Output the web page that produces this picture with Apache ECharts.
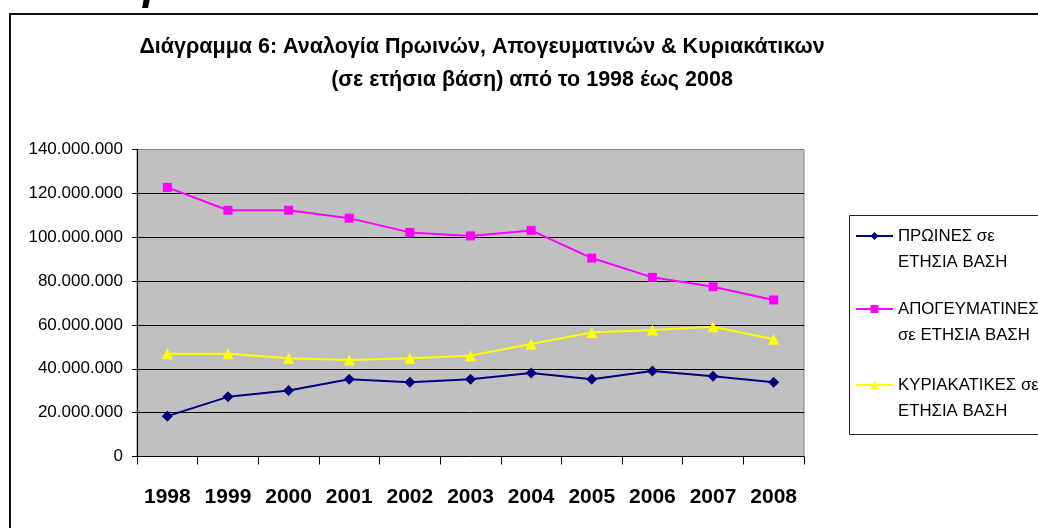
<!DOCTYPE html>
<html>
<head>
<meta charset="utf-8">
<script src="https://cdn.jsdelivr.net/npm/echarts@6/dist/echarts.min.js"></script>
<style>
html,body{margin:0;padding:0;background:#fff;}
#chart{width:1038px;height:528px;}
</style>
</head>
<body>
<div id="chart"></div>
<script>
const years = ['1998','1999','2000','2001','2002','2003','2004','2005','2006','2007','2008'];
const morning = [18400000, 27200000, 30100000, 35200000, 33900000, 35200000, 38100000, 35200000, 39000000, 36600000, 33900000];
const afternoon = [122700000, 112300000, 112300000, 108700000, 102200000, 100600000, 103100000, 90500000, 81700000, 77400000, 71400000];
const sunday = [46900000, 46900000, 44800000, 44000000, 44800000, 46000000, 51300000, 56500000, 57700000, 59200000, 53500000];
const seriesNames = ['ΠΡΩΙΝΕΣ σε ΕΤΗΣΙΑ ΒΑΣΗ', 'ΑΠΟΓΕΥΜΑΤΙΝΕΣ σε ΕΤΗΣΙΑ ΒΑΣΗ', 'ΚΥΡΙΑΚΑΤΙΚΕΣ σε ΕΤΗΣΙΑ ΒΑΣΗ'];
const legendLabels = ['ΠΡΩΙΝΕΣ σε\nΕΤΗΣΙΑ ΒΑΣΗ', 'ΑΠΟΓΕΥΜΑΤΙΝΕΣ\nσε ΕΤΗΣΙΑ ΒΑΣΗ', 'ΚΥΡΙΑΚΑΤΙΚΕΣ σε\nΕΤΗΣΙΑ ΒΑΣΗ'];
const titleLine1 = 'Διάγραμμα 6: Αναλογία Πρωινών, Απογευματινών & Κυριακάτικων';
const titleLine2 = '(σε ετήσια βάση) από το 1998 έως 2008';

const FONT = 'Liberation Sans, Arial, sans-serif';
const chart = echarts.init(document.getElementById('chart'), null, {renderer: 'canvas'});

function fmt(v) {
  return String(v).replace(/\B(?=(\d{3})+(?!\d))/g, '.');
}

function legendFor(i, top) {
  return {
    data: [seriesNames[i]],
    orient: 'vertical',
    left: 850,
    top: top,
    itemWidth: 37,
    itemHeight: 10,
    itemGap: 0,
    formatter: function (name) { return '\n' + legendLabels[seriesNames.indexOf(name)]; },
    textStyle: {
      fontFamily: FONT,
      fontSize: 16.8,
      color: '#000',
      lineHeight: 26
    }
  };
}

const option = {
  backgroundColor: '#fff',
  animation: false,
  title: [
    {
      text: titleLine1,
      left: 482,
      top: 36,
      textAlign: 'center',
      padding: 0,
      textStyle: {fontFamily: FONT, fontSize: 21.5, fontWeight: 'bold', color: '#000'}
    },
    {
      text: titleLine2,
      left: 532,
      top: 69,
      textAlign: 'center',
      padding: 0,
      textStyle: {fontFamily: FONT, fontSize: 21.5, fontWeight: 'bold', color: '#000'}
    }
  ],
  graphic: [
    {
      type: 'rect', z: -10, silent: true,
      shape: {x: 10, y: 14, width: 1100, height: 600},
      style: {fill: 'none', stroke: '#111', lineWidth: 2}
    },
    {
      type: 'rect', z: -5, silent: true,
      shape: {x: 849.5, y: 215.5, width: 300, height: 219},
      style: {fill: 'none', stroke: '#222', lineWidth: 1}
    },
    {
      type: 'text', silent: true,
      style: {text: 'ρ', x: 143, y: 8, verticalAlign: 'bottom', font: 'italic bold 42px ' + FONT, fill: '#000'}
    }
  ],
  legend: [legendFor(0, 192), legendFor(1, 265), legendFor(2, 341)],
  grid: {
    left: 137,
    right: 234,
    top: 149.5,
    bottom: 71.5,
    show: true,
    backgroundColor: '#C0C0C0',
    borderColor: '#808080',
    borderWidth: 1
  },
  xAxis: {
    type: 'category',
    data: years,
    boundaryGap: true,
    axisLine: {lineStyle: {color: '#000', width: 1}},
    axisTick: {show: true, length: 8, lineStyle: {color: '#000'}},
    axisLabel: {
      interval: 0,
      fontFamily: FONT,
      fontSize: 21,
      fontWeight: 'bold',
      color: '#000',
      margin: 30
    },
    splitLine: {show: false}
  },
  yAxis: {
    type: 'value',
    min: 0,
    max: 140000000,
    interval: 20000000,
    axisLine: {show: true, lineStyle: {color: '#000', width: 1}},
    axisTick: {show: true, length: 5, lineStyle: {color: '#000'}},
    axisLabel: {
      fontFamily: FONT,
      fontSize: 17,
      color: '#000',
      margin: 14,
      formatter: fmt
    },
    splitLine: {show: true, showMaxLine: false, showMinLine: false, lineStyle: {color: '#000', width: 1}}
  },
  series: [
    {
      name: seriesNames[0],
      type: 'line',
      data: morning,
      symbol: 'diamond',
      symbolSize: 11,
      color: '#000080',
      lineStyle: {color: '#000080', width: 2},
      itemStyle: {color: '#000080'}
    },
    {
      name: seriesNames[1],
      type: 'line',
      data: afternoon,
      symbol: 'rect',
      symbolSize: 9,
      color: '#FF00FF',
      lineStyle: {color: '#FF00FF', width: 2},
      itemStyle: {color: '#FF00FF'}
    },
    {
      name: seriesNames[2],
      type: 'line',
      data: sunday,
      symbol: 'triangle',
      symbolSize: 11,
      color: '#FFFF00',
      lineStyle: {color: '#FFFF00', width: 2},
      itemStyle: {color: '#FFFF00'}
    }
  ]
};
chart.setOption(option);
</script>
</body>
</html>
